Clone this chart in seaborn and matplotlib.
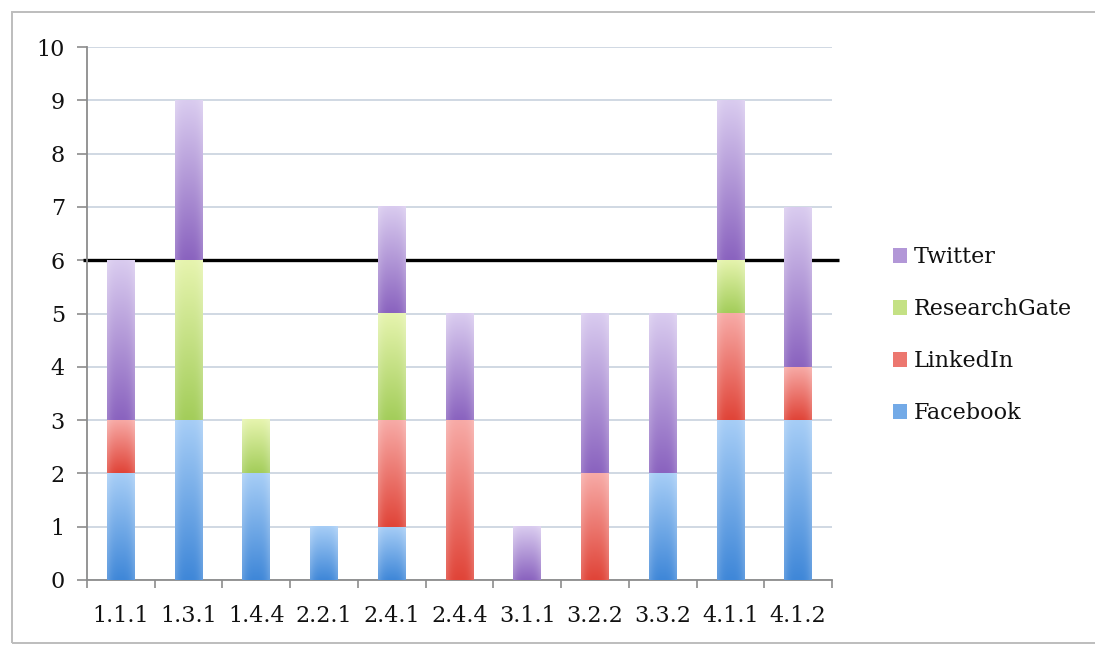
import numpy as np
import pandas as pd
import matplotlib
matplotlib.use("Agg")
import matplotlib.pyplot as plt
import seaborn as sns
from matplotlib.colors import to_rgb
from matplotlib.patches import Patch, Rectangle

# Indicator codes on the x axis
categories = ["1.1.1", "1.3.1", "1.4.4", "2.2.1", "2.4.1", "2.4.4",
              "3.1.1", "3.2.2", "3.3.2", "4.1.1", "4.1.2"]

# Counts per platform, stacked bottom to top
facebook     = [2, 3, 2, 1, 1, 0, 0, 0, 2, 3, 3]
linkedin     = [1, 0, 0, 0, 2, 3, 0, 2, 0, 2, 1]
researchgate = [0, 3, 1, 0, 2, 0, 0, 0, 0, 1, 0]
twitter      = [3, 3, 0, 0, 2, 2, 1, 3, 3, 3, 3]

platforms = ["Facebook", "LinkedIn", "ResearchGate", "Twitter"]
threshold = 6
y_ticks = list(range(0, 11))

# (light top, dark bottom) gradient stops for each platform
shades = {
    "Facebook":     ("#a6cdf6", "#3f87d8"),
    "LinkedIn":     ("#f7aaa6", "#e04438"),
    "ResearchGate": ("#e6f4ae", "#a3cd5a"),
    "Twitter":      ("#d9cbef", "#8a63bf"),
}

df = pd.DataFrame({"code": categories, "Facebook": facebook, "LinkedIn": linkedin,
                   "ResearchGate": researchgate, "Twitter": twitter})

sns.set_theme(style="white")
plt.rcParams["font.family"] = ["DejaVu Serif"]
plt.rcParams["text.color"] = "#111111"
plt.rcParams["xtick.labelcolor"] = "#111111"
plt.rcParams["ytick.labelcolor"] = "#111111"

fig = plt.figure(figsize=(10.95, 6.46), dpi=100)
ax = fig.add_axes([87 / 1095, 1 - 580 / 646, (832 - 87) / 1095, (580 - 47) / 646])

bottom = np.zeros(len(categories))
layers = []
for name in platforms:
    vals = df[name].to_numpy(dtype=float)
    n_before = len(ax.patches)
    sns.barplot(data=df, x="code", y=name, order=categories, bottom=bottom,
                color=shades[name][1], width=0.41, ax=ax, zorder=3)
    layers.append((name, ax.patches[n_before:]))
    bottom = bottom + vals

# Replace flat fills with a vertical gradient (light on top), softened at the edges
ny, nx = 64, 16
tv = np.linspace(0, 1, ny)[:, None]              # 0 top -> 1 bottom
xs = np.linspace(-1, 1, nx)[None, :]
edge = 0.18 * np.abs(xs) ** 3
for name, patches in layers:
    top_c, bot_c = np.array(to_rgb(shades[name][0])), np.array(to_rgb(shades[name][1]))
    for p in patches:
        h = p.get_height()
        if h <= 0:
            p.set_visible(False)
            continue
        x0, y0, w = p.get_x(), p.get_y(), p.get_width()
        img = top_c[None, None, :] * (1 - tv[..., None]) + bot_c[None, None, :] * tv[..., None]
        img = np.broadcast_to(img, (ny, nx, 3)).copy()
        img = img + (1 - img) * edge[..., None]
        ax.imshow(img, extent=[x0, x0 + w, y0, y0 + h], origin="upper",
                  aspect="auto", interpolation="bicubic", zorder=3)
        p.set_visible(False)

ax.set_xlim(-0.5, len(categories) - 0.5)
ax.set_ylim(0, 10)
ax.set_aspect("auto")

# Threshold line, running slightly past both ends of the plotting area
ax.plot([-0.56, len(categories) - 0.39], [threshold, threshold], color="black",
        lw=2.4, zorder=2.5, clip_on=False, solid_capstyle="butt")

ax.set_yticks(y_ticks)
ax.yaxis.grid(True, color="#cdd5e0", lw=1.3, zorder=0)
ax.set_axisbelow(True)
ax.set_xlabel("")
ax.set_ylabel("")
for side in ["top", "right"]:
    ax.spines[side].set_visible(False)
for side in ["left", "bottom"]:
    ax.spines[side].set_color("#8c8c8c")
    ax.spines[side].set_linewidth(1.3)

ax.tick_params(axis="y", which="major", direction="out", length=7, width=1.2,
               color="#8c8c8c", labelsize=16, pad=9, left=True)
ax.tick_params(axis="x", which="major", length=0, labelsize=16, pad=18)
ax.set_xticks(np.arange(-0.5, len(categories), 1.0), minor=True)
ax.tick_params(axis="x", which="minor", direction="out", length=6, width=1.2,
               color="#8c8c8c", bottom=True)

handles = [Patch(facecolor=tuple((np.array(to_rgb(shades[n][0])) + np.array(to_rgb(shades[n][1]))) / 2),
                 edgecolor="none", label=n) for n in reversed(platforms)]
fig.legend(handles=handles, loc="center left", bbox_to_anchor=(0.807, 0.481),
           frameon=False, fontsize=16, handlelength=0.65, handleheight=0.65,
           handletextpad=0.3, labelspacing=1.35, borderaxespad=0)

# Thin frame around the figure
fig.patches.append(Rectangle((12 / 1095, 3 / 646), 1.2, (643 - 12) / 646,
                             transform=fig.transFigure, fill=False,
                             edgecolor="#bdbdbd", lw=1.4, zorder=0))

fig.savefig("out.png", dpi=100)
